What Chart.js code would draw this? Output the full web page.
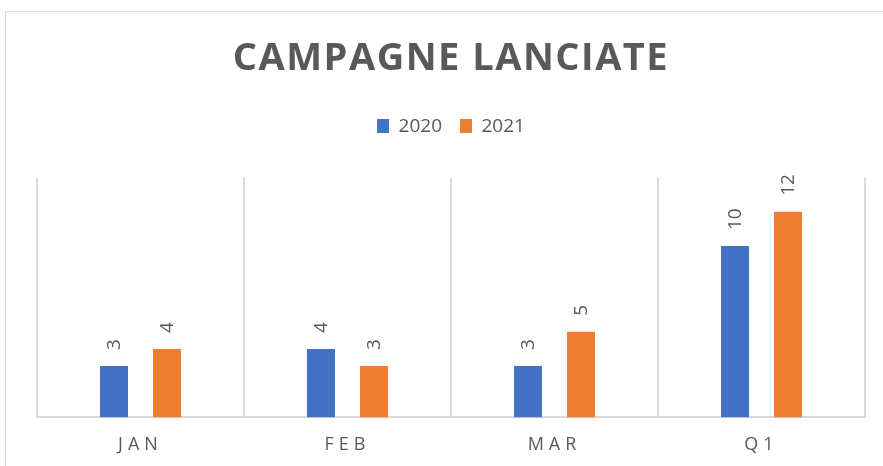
<!DOCTYPE html>
<html>
<head>
<meta charset="utf-8">
<script src="https://cdn.jsdelivr.net/npm/chart.js@4"></script>
<style>
  html, body { margin: 0; padding: 0; background: #fff; overflow: hidden; }
  #wrap { position: relative; width: 883px; height: 466px; }
  #frame { position: absolute; left: 5px; top: 11px; width: 900px; height: 500px; border: 1px solid #d9d9d9; }
  #mycanvas { position: absolute; left: 0; top: 0; }
</style>
</head>
<body>
<div id="wrap">
  <div id="frame"></div>
  <canvas id="mycanvas" width="883" height="466"></canvas>
</div>
<script>
// データ
const labels = ['JAN', 'FEB', 'MAR', 'Q1'];
const series_names = ['2020', '2021'];
const values_2020 = [3, 4, 3, 10];
const values_2021 = [4, 3, 5, 12];
const bar_colors = ['#4472C4', '#ED7D31'];

const GRAY = '#595959';
Chart.defaults.font.family = "'Open Sans', sans-serif";
Chart.defaults.color = GRAY;

// 文字間隔 (canvas letterSpacing) をタイトルとX軸ラベルにだけ付ける
function wrap(obj, name, sp) {
  const orig = obj[name];
  obj[name] = function (...args) {
    const ctx = this.ctx;
    ctx.save();
    ctx.letterSpacing = sp;
    orig.apply(this, args);
    ctx.restore();
  };
}
const spacing = {
  id: 'spacing',
  beforeDraw(chart) {
    if (chart.$spaced) return;
    chart.$spaced = true;
    wrap(chart.titleBlock, 'draw', '1.5px');
    wrap(chart.scales.x, 'drawLabels', '5px');
  }
};

// 棒の上に縦書きの数値
const barLabels = {
  id: 'barLabels',
  afterDatasetsDraw(chart) {
    const ctx = chart.ctx;
    chart.data.datasets.forEach((ds, i) => {
      chart.getDatasetMeta(i).data.forEach((bar, j) => {
        ctx.save();
        ctx.translate(bar.x + 1, bar.y - 16);
        ctx.rotate(-Math.PI / 2);
        ctx.font = "19px 'Open Sans'";
        ctx.fillStyle = GRAY;
        ctx.textAlign = 'left';
        ctx.textBaseline = 'middle';
        ctx.fillText(ds.data[j], 0, 0);
        ctx.restore();
      });
    });
  }
};

const ctx = document.querySelector('#mycanvas').getContext('2d');
const myChart = new Chart(ctx, {
  type: 'bar',
  data: {
    labels: labels,
    datasets: [
      { label: series_names[0], data: values_2020, backgroundColor: bar_colors[0] },
      { label: series_names[1], data: values_2021, backgroundColor: bar_colors[1] }
    ]
  },
  options: {
    responsive: false,
    animation: false,
    layout: { padding: { left: 37, right: 18, top: 0, bottom: -7 } },
    datasets: { bar: { categoryPercentage: 0.512, barPercentage: 0.528 } },
    plugins: {
      title: {
        display: true,
        text: 'CAMPAGNE LANCIATE',
        color: GRAY,
        font: { size: 38, weight: 'bold' },
        padding: { top: 36, bottom: 17 }
      },
      legend: {
        display: true,
        labels: { boxWidth: 12, boxHeight: 14, padding: 18, color: GRAY, font: { size: 19 } }
      },
      // 凡例とプロットの間の余白
      subtitle: {
        display: true,
        text: '',
        weight: 500,
        font: { size: 1, lineHeight: 1 },
        padding: { top: 31, bottom: 0 }
      },
      tooltip: { enabled: false }
    },
    scales: {
      x: {
        grid: { color: '#d9d9d9', lineWidth: 2, drawTicks: false, offset: true },
        border: { color: '#d9d9d9', width: 2 },
        ticks: { color: GRAY, font: { size: 18 }, padding: 17 }
      },
      y: {
        display: false,
        min: 0,
        max: 14
      }
    }
  },
  plugins: [spacing, barLabels]
});
</script>
</body>
</html>
